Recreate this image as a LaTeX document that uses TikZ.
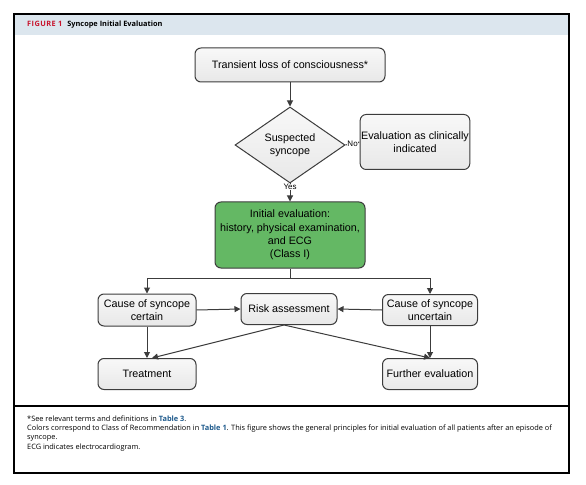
\documentclass[tikz,border=0pt]{standalone}
\usepackage{fontspec}
\setmainfont{Liberation Sans}
\newfontfamily\notefont{Open Sans}
\usetikzlibrary{shapes.geometric,arrows.meta,calc}
\definecolor{hdrbg}{RGB}{220,230,238}
\definecolor{figred}{RGB}{200,20,45}
\definecolor{linkblue}{RGB}{30,90,140}
\definecolor{boxtop}{RGB}{248,248,248}
\definecolor{boxbot}{RGB}{232,232,232}
\definecolor{boxline}{RGB}{60,60,60}
\definecolor{greenfill}{RGB}{100,184,100}
\tikzset{
  flowbox/.style={draw=boxline, line width=1bp, rounded corners=6bp,
    top color=boxtop, bottom color=boxbot,
    align=center, inner sep=1bp, font=\fontsize{10.8}{13.5}\selectfont},
  greenbox/.style={draw=boxline, line width=1bp, rounded corners=6bp, fill=greenfill,
    align=center, inner sep=1bp, font=\fontsize{10.8}{13.5}\selectfont},
  decision/.style={diamond, draw=boxline, line width=1bp, top color=boxtop, bottom color=boxbot,
    align=center, inner sep=0pt, font=\fontsize{10.8}{13.5}\selectfont},
  conn/.style={draw=boxline, line width=1bp, -{Triangle[length=6bp,width=6bp]}},
  plainconn/.style={draw=boxline, line width=1bp},
  lbl/.style={fill=white, inner sep=0.5bp, font=\fontsize{8}{9}\selectfont},
  notetext/.style={anchor=west, inner sep=0pt, font=\notefont\fontsize{7.4}{8}\selectfont},
}
\begin{document}
\begin{tikzpicture}[x=1bp,y=-1bp]
\useasboundingbox (0,0) rectangle (586,485);
% frame and header
\fill[hdrbg] (14,14) rectangle (569,35);
\draw[line width=1.2bp] (14,14) rectangle (569,473);
\draw[line width=1.2bp] (14,406) -- (569,406);
\node[anchor=west, inner sep=0pt, font=\notefont\bfseries\fontsize{7.4}{8}\selectfont] (hdr) at (27,25)
  {{\color{figred}\addfontfeature{LetterSpace=6}FIGURE 1}\hspace{5bp}Syncope Initial Evaluation};

% nodes
\node[flowbox, minimum width=190bp, minimum height=34bp] (t) at (290,65) {Transient loss of consciousness*};
\node[decision, minimum width=110bp, minimum height=76bp] (d) at (290,145) {Suspected\\syncope};
\node[flowbox, minimum width=105bp, minimum height=55bp] (e) at (415,142) {Evaluation as clinically\\indicated};
\node[greenbox, minimum width=150bp, minimum height=66bp] (g) at (290,235) {Initial evaluation:\\history, physical examination,\\and ECG\\(Class I)};
\node[flowbox, minimum width=98bp, minimum height=32bp] (c1) at (147,310) {Cause of syncope\\certain};
\node[flowbox, minimum width=96bp, minimum height=31bp] (r) at (289,309) {Risk assessment};
\node[flowbox, minimum width=95bp, minimum height=31bp] (c2) at (430,310) {Cause of syncope\\uncertain};
\node[flowbox, minimum width=98bp, minimum height=31bp] (tr) at (147,374) {Treatment};
\node[flowbox, minimum width=95bp, minimum height=31bp] (fe) at (430,374) {Further evaluation};

% connectors
\draw[conn] (t.south) -- (d.north);
\draw[conn] (d.east) -- node[lbl] {No} (e.west);
\draw[conn] (d.south) -- node[lbl, pos=0.2] {Yes} (g.north);
\coordinate (split) at ($(g.south)+(0,10)$);
\draw[plainconn] (g.south) -- (split);
\draw[conn] (split) -| (c1.north);
\draw[conn] (split) -| (c2.north);
\draw[conn] (c1.east) -- (r.west);
\draw[conn] (c2.west) -- (r.east);
\draw[conn] (c1.south) -- (tr.north);
\draw[conn] (c2.south) -- (fe.north);
\coordinate (rs) at ($(r.south)+(-5,0)$);
\draw[conn] (rs) -- ($(tr.north)+(5,0)$);
\draw[conn] (rs) -- (fe.north);

% footnote
\node[notetext] (n1) at (27,419) {*See relevant terms and definitions in {\color{linkblue}\bfseries Table 3}.};
\node[notetext] (n2) at (27,428.5) {Colors correspond to Class of Recommendation in {\color{linkblue}\bfseries Table 1}. This figure shows the general principles for initial evaluation of all patients after an episode of};
\node[notetext] (n3) at (27,438) {syncope.};
\node[notetext] (n4) at (27,447.5) {ECG indicates electrocardiogram.};
\end{tikzpicture}
\end{document}
